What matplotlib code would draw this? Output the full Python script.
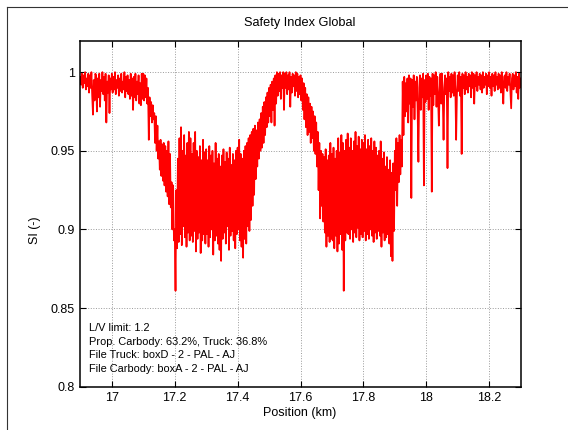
#Indice de seguridad global a lo largo del trayecto
import numpy as np
import matplotlib
matplotlib.use("Agg")
import matplotlib.pyplot as plt
from matplotlib.lines import Line2D

#Valores, en milesimas, cada 0.0025 km desde 16.9 hasta 18.3
si_milli = [
    997, 992, 999, 990, 998, 993, 1000, 989, 996, 991, 999, 987, 998, 990, 1000, 985, 973, 995, 982, 999,
    998, 975, 996, 984, 999, 978, 995, 988, 1000, 986, 997, 982, 999, 968, 994, 987, 998, 974, 996, 989,
    999, 987, 997, 989, 1000, 986, 995, 990, 998, 985, 996, 988, 999, 987, 994, 989, 1000, 984, 997, 988,
    998, 986, 995, 983, 999, 985, 996, 976, 997, 984, 999, 982, 994, 986, 998, 980, 993, 979, 999, 983,
    999, 982, 998, 984, 996, 980, 990, 957, 984, 972, 981, 968, 979, 970, 974, 955, 972, 950, 966, 945,
    956, 938, 957, 934, 954, 931, 955, 928, 953, 924, 950, 921, 956, 916, 948, 914, 930, 900, 928, 893,
    900, 861, 925, 888, 945, 892, 958, 897, 965, 890, 950, 902, 960, 895, 947, 889, 955, 898, 962, 893,
    958, 896, 948, 892, 955, 899, 962, 886, 950, 894, 946, 898, 953, 885, 944, 893, 957, 897, 949, 891,
    951, 897, 944, 889, 953, 895, 947, 900, 950, 884, 942, 893, 955, 896, 945, 891, 948, 887, 940, 880,
    947, 894, 951, 898, 943, 891, 949, 902, 945, 887, 952, 896, 941, 899, 948, 893, 944, 888, 950, 897,
    952, 900, 957, 893, 948, 889, 945, 882, 950, 894, 953, 891, 955, 902, 958, 899, 960, 906, 962, 915,
    964, 922, 966, 932, 963, 940, 968, 945, 970, 950, 974, 952, 978, 955, 981, 960, 984, 965, 987, 968,
    990, 972, 992, 968, 994, 976, 996, 966, 998, 980, 1000, 985, 999, 988, 1000, 983, 998, 990, 1000, 976,
    999, 990, 1000, 986, 998, 989, 1000, 978, 997, 987, 999, 991, 998, 985, 1000, 988, 999, 984, 997, 986,
    998, 982, 996, 976, 993, 970, 990, 965, 986, 960, 984, 962, 980, 955, 978, 958, 975, 950, 972, 948,
    968, 940, 962, 925, 955, 907, 950, 915, 948, 905, 946, 898, 951, 889, 944, 896, 947, 892, 955, 894,
    948, 893, 952, 888, 945, 896, 950, 886, 958, 891, 949, 897, 960, 887, 955, 861, 950, 893, 957, 898,
    961, 897, 952, 894, 958, 900, 950, 892, 956, 898, 962, 895, 953, 901, 959, 893, 951, 897, 957, 895,
    955, 899, 960, 893, 951, 897, 957, 894, 953, 900, 958, 896, 950, 892, 956, 898, 952, 894, 947, 899,
    950, 896, 956, 889, 945, 898, 949, 893, 940, 895, 946, 897, 938, 891, 944, 883, 936, 880, 942, 899,
    950, 925, 958, 915, 955, 930, 960, 935, 957, 940, 994, 960, 997, 972, 993, 975, 996, 968, 998, 980,
    996, 920, 995, 978, 998, 970, 994, 982, 997, 975, 943, 990, 998, 976, 996, 984, 999, 928, 995, 981,
    998, 983, 999, 976, 997, 985, 996, 924, 999, 979, 998, 986, 1000, 978, 997, 984, 966, 988, 999, 980,
    999, 983, 957, 990, 998, 986, 996, 939, 1000, 988, 997, 984, 999, 987, 998, 985, 1000, 989, 957, 986,
    998, 988, 1000, 985, 997, 948, 999, 990, 998, 986, 1000, 989, 997, 987, 999, 991, 998, 984, 1000, 990,
    999, 980, 998, 991, 1000, 988, 997, 992, 999, 989, 998, 987, 1000, 990, 997, 992, 999, 986, 998, 991,
    1000, 990, 997, 985, 999, 991, 998, 988, 1000, 992, 997, 989, 999, 990, 998, 987, 1000, 991, 980, 997,
    998, 990, 1000, 988, 997, 992, 999, 988, 977, 996, 999, 989, 998, 991, 1000, 987, 997, 983, 999, 990,
    996,
]
x_ticks = [17, 17.2, 17.4, 17.6, 17.8, 18, 18.2]
y_ticks = [0.8, 0.85, 0.9, 0.95, 1]
y_labels = ["0.8", "0.85", "0.9", "0.95", "1"]
info = ["L/V limit: 1.2",
        "Prop. Carbody: 63.2%, Truck: 36.8%",
        "File Truck: boxD - 2 - PAL - AJ",
        "File Carbody: boxA - 2 - PAL - AJ"]

si = np.array(si_milli) / 1000.0
pos = np.linspace(16.9, 18.3, len(si))

plt.rcParams['font.family'] = ['Liberation Sans', 'DejaVu Sans']

W, H = 568, 430
fig = plt.figure(figsize=(W / 100, H / 100), dpi=100)
ax = fig.add_axes([80.4 / W, 1 - 386.7 / H, 440.2 / W, 346 / H])

#Dibuja la senal
ax.plot(pos, si, color='#ff0000', lw=1.25)

ax.set_xlim(16.9, 18.3)
ax.set_ylim(0.8, 1.02)
ax.set_xticks(x_ticks)
ax.set_xticklabels([f"{t:g}" for t in x_ticks])
ax.set_yticks(y_ticks)
ax.set_yticklabels(y_labels)
ax.tick_params(direction='in', length=4, width=0.8, top=True, right=True,
               labelsize=9, pad=4)
ax.grid(True, linestyle=':', color='#9a9a9a', lw=0.7)
for s in ax.spines.values():
    s.set_linewidth(1.1)

#Textos
fig.text(300 / W, 1 - 22.7 / H, "Safety Index Global", ha='center', va='center', fontsize=9.2)
fig.text(300 / W, 1 - 412.7 / H, "Position (km)", ha='center', va='center', fontsize=9)
fig.text(35 / W, 1 - 230 / H, "SI (-)", ha='center', va='center', rotation=90, fontsize=9)
for i, line in enumerate(info):
    fig.text(89 / W, 1 - (328 + i * 13.7) / H, line, ha='left', va='center', fontsize=7.9)

#Marco exterior
fig.add_artist(Line2D([6.5 / W, 6.5 / W], [0, 1 - 6.7 / H], transform=fig.transFigure,
                      color='#333333', lw=0.8))
fig.add_artist(Line2D([6.5 / W, 1], [1 - 6.7 / H, 1 - 6.7 / H], transform=fig.transFigure,
                      color='#333333', lw=0.8))

fig.savefig("out.png", dpi=100)
